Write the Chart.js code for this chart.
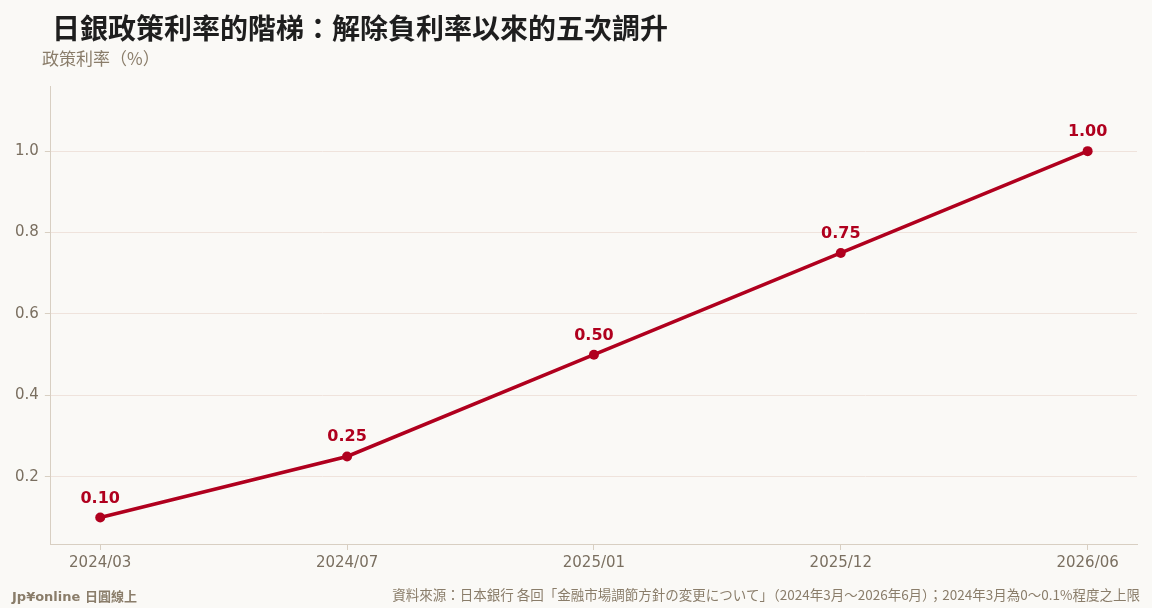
<!DOCTYPE html>
<html><head><meta charset="utf-8">
<script src="https://cdn.jsdelivr.net/npm/chart.js@4"></script>
<style>
html,body{margin:0;padding:0;background:#faf9f6;width:1152px;height:608px;overflow:hidden;font-family:"DejaVu Sans","Noto Sans CJK TC",sans-serif;}
#wrap{position:absolute;left:0;top:0;width:1152px;height:608px;}
#title{position:absolute;left:52px;top:7px;font:bold 28px "Noto Sans CJK TC","DejaVu Sans",sans-serif;color:#1e1e1e;white-space:nowrap;}
#ylab{position:absolute;left:42px;top:45px;font:17px "Noto Sans CJK TC",sans-serif;color:#8a7d6a;white-space:nowrap;}
#brand{position:absolute;left:12px;top:586px;font:bold 13px "DejaVu Sans","Noto Sans CJK TC",sans-serif;color:#8a7d6a;white-space:nowrap;}
#src{position:absolute;right:12px;top:584px;font:13.5px "Noto Sans CJK TC",sans-serif;color:#8a7d6a;white-space:nowrap;}
canvas{position:absolute;left:0;top:0;}
</style></head>
<body><div id="wrap">
<canvas id="c" width="1152" height="608"></canvas>
<div id="title">日銀政策利率的階梯：解除負利率以來的五次調升</div>
<div id="ylab">政策利率（%）</div>
<div id="brand">Jp¥online 日圓線上</div>
<div id="src">資料來源：日本銀行 各回「金融市場調節方針の変更について」（2024年3月～2026年6月）；2024年3月為0～0.1%程度之上限</div>
</div>
<script>
const categories = ["2024/03","2024/07","2025/01","2025/12","2026/06"];
const rates = [0.10, 0.25, 0.50, 0.75, 1.00];
const rateLabels = ["0.10","0.25","0.50","0.75","1.00"];
const yTicks = [0.2, 0.4, 0.6, 0.8, 1.0];

const red = '#b0001e';
const labelPlugin = {
  id:'lbl',
  afterDatasetsDraw(chart){
    const ctx = chart.ctx;
    const meta = chart.getDatasetMeta(0);
    ctx.save();
    ctx.font = 'bold 16px "DejaVu Sans", sans-serif';
    ctx.fillStyle = red;
    ctx.textAlign = 'center';
    ctx.textBaseline = 'alphabetic';
    meta.data.forEach((p,i)=>{ ctx.fillText(rateLabels[i], p.x, p.y - 15); });
    ctx.restore();
  }
};

new Chart(document.getElementById('c'), {
  type:'line',
  data:{ datasets:[{
    data: categories.map((c,i)=>({x:i, y:rates[i]})),
    borderColor: red, backgroundColor: red, borderWidth:3.5,
    pointRadius:5, pointHoverRadius:5, pointBackgroundColor:red, pointBorderWidth:0,
    tension:0
  }]},
  options:{
    responsive:false, animation:false,
    layout:{padding:{left:9,right:15,top:86,bottom:32}},
    plugins:{legend:{display:false},tooltip:{enabled:false}},
    scales:{
      x:{ type:'linear', min:-0.2, max:4.2,
        afterBuildTicks(s){ s.ticks = categories.map((c,i)=>({value:i})); },
        ticks:{ callback:(v)=>categories[v], color:'#7a6f60', font:{family:'DejaVu Sans', size:15}, padding:4, maxRotation:0 },
        grid:{ display:true, drawOnChartArea:false, drawTicks:true, tickLength:6, color:'#d8cfc2' },
        border:{ color:'#d8cfc2', width:1 }
      },
      y:{ min:0.035, max:1.16,
        afterBuildTicks(s){ s.ticks = yTicks.map(v=>({value:v})); },
        ticks:{ callback:(v)=>v.toFixed(1), color:'#7a6f60', font:{family:'DejaVu Sans', size:15}, padding:6 },
        grid:{ color:'#efe3dc', tickLength:6, tickColor:'#d8cfc2' },
        border:{ color:'#d8cfc2', width:1 }
      }
    }
  },
  plugins:[labelPlugin]
});
</script>
</body></html>
